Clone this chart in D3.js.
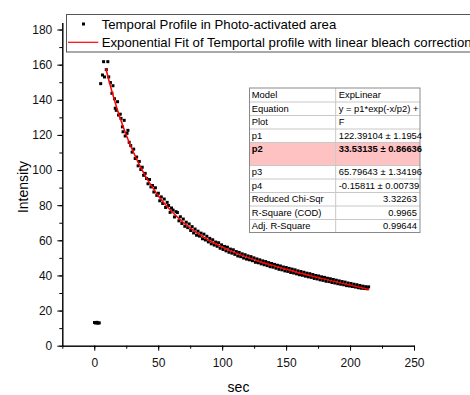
<!DOCTYPE html>
<head>
  <meta charset="utf-8">
  <script src="https://d3js.org/d3.v7.min.js"></script>
  <style>
    body { margin:0; background:#fff; }
    text { font-family: "Liberation Sans", Arial, sans-serif; }
  </style>
</head>
<body>
<svg width="470" height="395"></svg>
<script>

// pre-activation readings (sec, intensity)
const baseline = [[0.2,13.2],[1.1,12.9],[2.0,13.3],[2.9,12.8],[3.9,13.0]]

// temporal profile in photo-activated area (sec, intensity)
const profile = [
  [5.0,149.2],[6.4,154.1],[7.3,161.7],[8.0,153.0],[9.4,157.2],[10.6,161.7],[11.3,153.0],[12.6,149.8],
  [13.8,143.7],[14.6,148.0],[15.8,140.6],[16.4,135.2],[17.2,134.0],[18.2,138.9],[19.0,131.3],[20.3,131.8],
  [20.9,129.4],[22.0,124.6],[22.5,121.8],[23.4,128.3],[24.2,119.4],[25.6,120.9],[26.3,122.6],[27.3,115.8],
  [28.5,113.9],[29.6,110.2],[30.8,111.9],[32.0,106.6],[33.1,107.4],[34.3,102.4],[35.2,104.9],[36.4,100.3],
  [37.5,101.6],[38.6,97.0],[39.8,98.1],[40.9,95.2],[42.0,92.2],[43.2,94.6],[44.3,90.4],[45.5,91.2],
  [46.6,87.5],[47.8,89.9],[48.9,85.6],[50.1,86.8],[51.2,82.5],[52.4,84.7],[53.5,81.0],[54.7,83.5],
  [55.8,78.7],[57.0,81.6],[58.1,79.8],[59.3,75.9],[60.4,78.4],[61.6,77.2],[62.7,73.3],[63.9,76.3],
  [65.0,75.8],[66.2,71.1],[67.3,73.4],[68.5,69.6],[69.6,72.1],[70.8,68.0],[71.9,70.3],[73.1,67.2],
  [74.2,69.3],[75.4,65.6],[76.5,67.8],[77.7,64.2],[78.8,66.4],[80.0,62.9],[81.1,65.2],[82.3,62.4],
  [83.4,64.1],[84.6,60.9],[85.7,63.5],[86.9,60.2],[88.0,62.3],[89.2,59.1],[90.3,61.1],[91.5,58.0],
  [92.6,60.3],[93.8,57.3],[94.9,59.0],[96.1,56.6],[97.2,58.6],[98.4,55.5],[99.5,57.4],[100.7,54.8],
  [101.8,56.5],[103.0,54.0],[104.1,56.1],[105.3,53.2],[106.4,55.0],[107.6,52.7],[108.7,54.6],[109.9,52.0],
  [111.0,53.6],[112.2,51.1],[113.3,53.1],[114.5,50.7],[115.6,52.3],[116.8,49.9],[117.9,51.8],[119.1,49.3],
  [120.2,51.1],[121.4,48.9],[122.5,50.7],[123.7,48.4],[124.8,50.0],[126.0,47.5],[127.1,49.4],[128.3,47.2],
  [129.4,48.9],[130.6,46.6],[131.7,48.3],[132.9,46.1],[134.0,47.9],[135.2,45.6],[136.3,47.3],[137.5,45.0],
  [138.6,46.8],[139.8,44.7],[140.9,46.3],[142.1,44.1],[143.2,45.8],[144.4,43.5],[145.5,45.4],[146.7,43.2],
  [147.8,44.8],[149.0,42.6],[150.1,44.5],[151.3,42.3],[152.4,44.0],[153.6,41.7],[154.7,43.6],[155.9,41.4],
  [157.0,43.2],[158.2,40.9],[159.3,42.6],[160.5,40.4],[161.6,42.2],[162.8,40.1],[163.9,41.8],[165.1,39.6],
  [166.2,41.3],[167.4,39.2],[168.5,41.0],[169.7,38.9],[170.8,40.5],[172.0,38.3],[173.1,40.0],[174.3,38.0],
  [175.4,39.7],[176.6,37.5],[177.7,39.2],[178.9,37.2],[180.0,38.9],[181.2,36.7],[182.3,38.4],[183.5,36.5],
  [184.6,38.1],[185.8,36.0],[186.9,37.7],[188.1,35.7],[189.2,37.3],[190.4,35.3],[191.5,36.9],[192.7,35.0],
  [193.8,36.5],[195.0,34.7],[196.1,36.2],[197.3,34.2],[198.4,35.7],[199.6,34.0],[200.7,35.4],[201.9,33.7],
  [203.0,35.0],[204.2,33.4],[205.3,34.7],[206.5,33.0],[207.6,34.3],[208.8,32.7],[209.9,33.9],[211.1,32.6],
  [212.2,33.6],[213.4,32.4],[214.5,33.5]
]

// exponential fit with linear bleach correction
const fitSec = [9, 10, 12.5, 15, 20, 25, 30, 35, 40, 45, 50, 60, 70, 80, 90, 100,
                110, 120, 130, 140, 150, 160, 170, 180, 190, 200, 210, 215]
const fitInt = [158.0, 155.1, 148.1, 141.7, 130.0, 119.9, 111.1, 103.4, 96.6, 90.7, 85.4, 76.8, 69.9, 64.4, 59.9, 56.2,
                53.0, 50.3, 47.8, 45.6, 43.5, 41.5, 39.7, 37.9, 36.2, 34.5, 32.8, 32.0]

const xTicks = [0, 50, 100, 150, 200, 250]
const yTicks = [0, 20, 40, 60, 80, 100, 120, 140, 160, 180]

const legendLabels = ["Temporal Profile in Photo-activated area",
                      "Exponential Fit of Temportal profile with linear bleach correction"]

const tableLabels = ["Model", "Equation", "Plot", "p1", "p2", "p3", "p4",
                     "Reduced Chi-Sqr", "R-Square (COD)", "Adj. R-Square"]
const tableValues = ["ExpLinear", "y = p1*exp(-x/p2) +", "F", "122.39104 \u00b1 1.1954",
                     "33.53135 \u00b1 0.86636", "65.79643 \u00b1 1.34196", "-0.15811 \u00b1 0.00739",
                     "3.32263", "0.9965", "0.99644"]

const svg = d3.select("svg")

const x = d3.scaleLinear().domain([-25, 250]).range([62.3, 414])
const y = d3.scaleLinear().domain([0, 184]).range([345.7, 22.5])

// minor ticks first, majors over them
svg.append("g")
    .attr("transform", "translate(0,345.7)")
    .call(d3.axisBottom(x).tickValues(d3.range(-25, 251, 25)).tickFormat("").tickSize(3).tickSizeOuter(0))
svg.append("g")
    .attr("transform", "translate(62.3,0)")
    .call(d3.axisLeft(y).tickValues(d3.range(0, 181, 10)).tickFormat("").tickSize(3).tickSizeOuter(0))

const xAxis = svg.append("g")
    .attr("transform", "translate(0,345.7)")
    .call(d3.axisBottom(x).tickValues(xTicks).tickSize(5).tickPadding(7.5).tickSizeOuter(0))
const yAxis = svg.append("g")
    .attr("transform", "translate(62.3,0)")
    .call(d3.axisLeft(y).tickValues(yTicks).tickSize(5).tickPadding(5).tickSizeOuter(0))

svg.selectAll(".domain").attr("stroke", "#000")
svg.selectAll(".tick line").attr("stroke", "#000")
svg.selectAll(".tick text")
    .style("font-family", '"Liberation Sans", Arial, sans-serif')
    .style("font-size", "12px")
    .attr("fill", "#111")

svg.append("text")
    .attr("x", 238.5).attr("y", 391.7)
    .attr("text-anchor", "middle")
    .style("font-size", "14px")
    .text("sec")

svg.append("text")
    .attr("transform", "translate(28.3,187) rotate(-90)")
    .attr("text-anchor", "middle")
    .style("font-size", "14px")
    .text("Intensity")

// data points
svg.append("g")
  .selectAll("rect")
  .data(baseline.concat(profile))
  .enter().append("rect")
    .attr("x", d => x(d[0]) - 1.5)
    .attr("y", d => y(d[1]) - 1.5)
    .attr("width", 3)
    .attr("height", 3)
    .attr("fill", "#000")

// fit curve
const line = d3.line()
    .x((d, i) => x(fitSec[i]))
    .y(d => y(d))
    .curve(d3.curveMonotoneX)

svg.append("path")
    .datum(fitInt)
    .attr("d", line)
    .attr("fill", "none")
    .attr("stroke", "#f00")
    .attr("stroke-width", 1.5)

// legend
const legend = svg.append("g")
legend.append("rect")
    .attr("x", 66.5).attr("y", 14.5)
    .attr("width", 420).attr("height", 37.5)
    .attr("fill", "#fff")
    .attr("stroke", "#555")
legend.append("rect")
    .attr("x", 82).attr("y", 22.5).attr("width", 3).attr("height", 3)
    .attr("fill", "#000")
legend.append("line")
    .attr("x1", 68).attr("x2", 98.3).attr("y1", 42.3).attr("y2", 42.3)
    .attr("stroke", "#f00").attr("stroke-width", 1.2)
legend.selectAll("text.lg")
  .data(legendLabels)
  .enter().append("text")
    .attr("class", "lg")
    .attr("x", 101.7)
    .attr("y", (d, i) => 28.5 + i * 18.5)
    .style("font-size", "13.2px")
    .text(d => d)

// parameter table
const tx0 = 249.5, tx1 = 335.7, tx2 = 420, ty0 = 88
const rowH = tableLabels.map(d => d === "p2" ? 23 : 13.5)
const rowY = []
rowH.reduce((acc, h) => { rowY.push(acc); return acc + h }, ty0)
const tyEnd = rowY[rowY.length - 1] + rowH[rowH.length - 1]

const table = svg.append("g")
table.append("rect")
    .attr("x", tx0).attr("y", ty0)
    .attr("width", tx2 - tx0).attr("height", tyEnd - ty0)
    .attr("fill", "#fff")

table.selectAll("rect.hl")
  .data(tableLabels.filter(d => d === "p2"))
  .enter().append("rect")
    .attr("class", "hl")
    .attr("x", tx0).attr("y", d => rowY[tableLabels.indexOf(d)])
    .attr("width", tx2 - tx0).attr("height", d => rowH[tableLabels.indexOf(d)])
    .attr("fill", "#ffc2c2")

table.selectAll("line.row")
  .data(rowY.slice(1))
  .enter().append("line")
    .attr("class", "row")
    .attr("x1", tx0).attr("x2", tx2)
    .attr("y1", d => d + 0.5).attr("y2", d => d + 0.5)
    .attr("stroke", "#c8c8c8")

table.append("line")
    .attr("x1", tx1).attr("x2", tx1).attr("y1", ty0).attr("y2", tyEnd)
    .attr("stroke", "#c8c8c8")

table.append("rect")
    .attr("x", tx0).attr("y", ty0)
    .attr("width", tx2 - tx0).attr("height", tyEnd - ty0)
    .attr("fill", "none")
    .attr("stroke", "#8a8a8a")

table.selectAll("text.lab")
  .data(tableLabels)
  .enter().append("text")
    .attr("class", "lab")
    .attr("x", tx0 + 2.2)
    .attr("y", (d, i) => rowY[i] + 10.3)
    .style("font-size", "9.4px")
    .style("font-weight", d => d === "p2" ? "bold" : null)
    .text(d => d)

table.selectAll("text.val")
  .data(tableValues)
  .enter().append("text")
    .attr("class", "val")
    .attr("x", (d, i) => i >= 7 ? tx2 - 3 : tx1 + 3)
    .attr("y", (d, i) => rowY[i] + 10.3)
    .attr("text-anchor", (d, i) => i >= 7 ? "end" : "start")
    .style("font-size", "9.4px")
    .style("font-weight", (d, i) => tableLabels[i] === "p2" ? "bold" : null)
    .text(d => d)

</script>
</body>
